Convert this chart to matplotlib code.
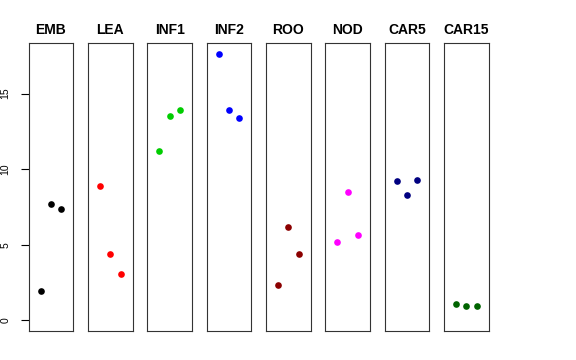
import matplotlib
matplotlib.use("Agg")
import matplotlib.pyplot as plt

plt.rcParams['font.family'] = ['Liberation Sans', 'DejaVu Sans']

categories = ["EMB", "LEA", "INF1", "INF2", "ROO", "NOD", "CAR5", "CAR15"]
colors = ["#000000", "#FF0000", "#00CD00", "#0000FF", "#8B0000", "#FF00FF", "#000080", "#006400"]
values = {
    "EMB": [1.94, 7.67, 7.34],
    "LEA": [8.90, 4.40, 3.06],
    "INF1": [11.21, 13.48, 13.88],
    "INF2": [17.62, 13.88, 13.35],
    "ROO": [2.31, 6.17, 4.36],
    "NOD": [5.20, 8.46, 5.62],
    "CAR5": [9.21, 8.26, 9.29],
    "CAR15": [1.06, 0.95, 0.95],
}
xpos = [1, 2, 3]
yticks = [0, 5, 10, 15]

W, H = 576, 360
fig = plt.figure(figsize=(W / 100, H / 100), dpi=100)
left0 = 28.7
pw = 44.6
step = 59.33
top = 43.3
bot = 331.0
ymin, ymax = -0.704, 18.32

for i, cat in enumerate(categories):
    x0 = left0 + i * step
    ax = fig.add_axes([x0 / W, 1 - bot / H, pw / W, (bot - top) / H])
    ax.plot(xpos, values[cat], 'o', color=colors[i], markersize=4.8, markeredgewidth=0)
    ax.set_xlim(-0.16, 4.16)
    ax.set_ylim(ymin, ymax)
    ax.set_xticks([])
    ax.set_title(cat, fontsize=10, fontweight='bold', pad=7)
    for s in ax.spines.values():
        s.set_linewidth(0.8)
        s.set_color('#333333')
    if i == 0:
        ax.set_yticks(yticks)
        ax.set_yticklabels([str(t) for t in yticks], rotation=90, va='center', fontsize=7.5)
        ax.tick_params(axis='y', length=6, width=0.8, pad=7)
    else:
        ax.set_yticks([])

fig.savefig("out.png", dpi=100)
